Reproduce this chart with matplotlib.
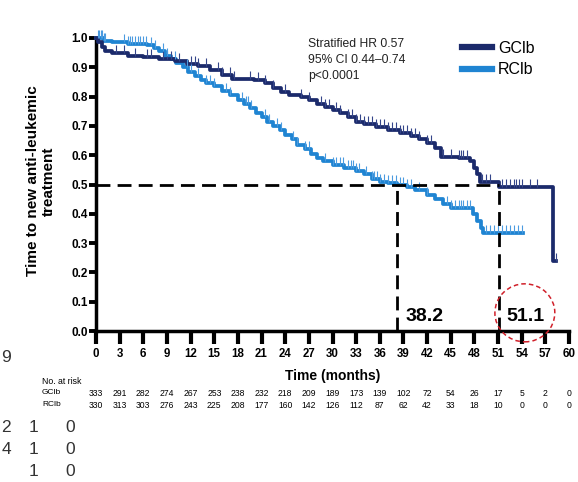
import numpy as np
import matplotlib
matplotlib.use('Agg')
import matplotlib.pyplot as plt
from matplotlib.patches import Ellipse
from matplotlib.lines import Line2D

plt.rcParams['font.family'] = ['Liberation Sans', 'DejaVu Sans']

# ---- data ----
gclb_t = [0, 0.3, 0.7, 1.2, 2, 4, 6, 8, 10, 11.5, 13, 14.5, 16, 17.3, 20, 21.5, 22.5,
          23.5, 24.5, 26, 27, 28, 29, 30, 31, 32, 33, 34, 35.5, 37, 38.5, 40, 41, 42,
          43, 43.7, 46, 47.5, 48, 48.3, 48.7, 51.1, 58, 58.3]
gclb_s = [1.0, 0.985, 0.97, 0.955, 0.95, 0.94, 0.935, 0.93, 0.92, 0.91, 0.905, 0.89,
          0.875, 0.86, 0.855, 0.845, 0.83, 0.815, 0.805, 0.8, 0.79, 0.775, 0.765, 0.755,
          0.745, 0.73, 0.715, 0.705, 0.695, 0.685, 0.675, 0.665, 0.655, 0.64, 0.625,
          0.595, 0.59, 0.58, 0.555, 0.535, 0.51, 0.49, 0.24, 0.24]

rclb_t = [0, 1, 2, 4, 6.5, 7.3, 8, 8.7, 9.5, 10.2, 11, 11.7, 12.5, 13.3, 14, 15, 16, 17,
          18, 18.8, 19.5, 20.3, 21, 21.7, 22.5, 23.3, 24, 24.8, 25.5, 26.5, 27.3, 28,
          28.8, 30, 31.5, 33, 34, 35, 36, 37, 38.2, 39.5, 40.5, 42, 43, 44, 45, 47.8,
          48.3, 48.8, 49.1, 54.2]
rclb_s = [1.0, 0.99, 0.985, 0.98, 0.975, 0.965, 0.955, 0.94, 0.93, 0.915, 0.9, 0.885,
          0.87, 0.855, 0.845, 0.835, 0.82, 0.805, 0.79, 0.775, 0.76, 0.745, 0.73, 0.715,
          0.7, 0.685, 0.67, 0.655, 0.635, 0.62, 0.605, 0.59, 0.58, 0.565, 0.555, 0.545,
          0.535, 0.52, 0.51, 0.505, 0.497, 0.49, 0.48, 0.465, 0.45, 0.435, 0.42, 0.40,
          0.375, 0.35, 0.335, 0.335]

gclb_cens = [2.5, 3.5, 5, 6.5, 7, 8.5, 9, 9.5, 10.5, 12, 12.5, 13, 14, 15.5, 16, 17, 17.5,
             19.5, 20.5, 21.5, 22.5, 24, 26, 27, 28.5, 29, 29.5, 30.5, 31, 32, 32.5, 33,
             33.5, 34, 34.5, 35, 35.5, 36, 36.5, 37, 37.5, 38, 38.5, 39, 39.5, 40, 40.5,
             41, 42, 42.5, 44, 45, 46, 46.3, 46.6, 47, 49, 49.5, 50, 51.5, 52, 52.5, 53,
             53.3, 53.6, 54, 55, 56, 58.3]
rclb_cens = [0.2, 0.4, 0.6, 0.8, 1.0, 1.2, 3.5, 4, 4.3, 4.6, 5, 5.3, 5.6, 6, 6.3, 7, 7.5,
             8.5, 9, 10, 11.5, 12, 13, 14, 14.5, 15, 16.5, 17, 18.5, 19, 19.3, 19.6, 21.5,
             22, 23, 23.5, 25, 25.5, 26.5, 27, 29, 30, 30.5, 31, 31.3, 32, 32.3, 32.6, 33,
             33.3, 34.2, 35, 35.3, 35.6, 36, 36.5, 37, 37.5, 38, 38.5, 39, 39.5, 40, 41,
             42, 44.5, 45, 45.5, 46, 46.3, 46.6, 47, 47.5, 49.5, 50, 50.5, 51, 51.5, 52,
             52.5, 53, 53.5, 54]

xticks = list(range(0, 61, 3))
yticks = [0.0, 0.1, 0.2, 0.3, 0.4, 0.5, 0.6, 0.7, 0.8, 0.9, 1.0]
risk_gclb = [333, 291, 282, 274, 267, 253, 238, 232, 218, 209, 189, 173, 139, 102, 72,
             54, 26, 17, 5, 2, 0]
risk_rclb = [330, 313, 303, 276, 243, 225, 208, 177, 160, 142, 126, 112, 87, 62, 42,
             33, 18, 10, 0, 0, 0]
median_gclb = 51.1
median_rclb = 38.2

C_G = '#1b2a6b'
C_R = '#1f84d2'

W, H = 578, 482
fig = plt.figure(figsize=(W / 100, H / 100), dpi=100)
ax = fig.add_axes([96 / W, 1 - 331 / H, (569 - 96) / W, (331 - 38) / H])

ax.step(gclb_t, gclb_s, where='post', color=C_G, lw=2.7, clip_on=False, zorder=4)
ax.step(rclb_t, rclb_s, where='post', color=C_R, lw=2.7, clip_on=False, zorder=3)


def surv_at(t, s, c):
    idx = np.searchsorted(np.array(t), np.array(c), side='right') - 1
    return np.array(s)[idx]


tick_marker = [(0, 0), (0, 1)]
ax.plot(gclb_cens, surv_at(gclb_t, gclb_s, gclb_cens), ls='none', marker=tick_marker,
        ms=11, mew=0.8, mec='#34458a', mfc='none', clip_on=False, zorder=5)
ax.plot(rclb_cens, surv_at(rclb_t, rclb_s, rclb_cens), ls='none', marker=tick_marker,
        ms=11, mew=0.8, mec='#4b9be0', mfc='none', clip_on=False, zorder=5)

# median lines
dash = (0, (5, 2.6))
ax.plot([0, median_gclb], [0.5, 0.5], color='black', lw=2.0, ls=dash, zorder=6)
ax.plot([median_rclb, median_rclb], [0, 0.5], color='black', lw=2.0, ls=dash, zorder=6)
ax.plot([median_gclb, median_gclb], [0, 0.5], color='black', lw=2.0, ls=dash, zorder=6)
ax.text(median_rclb + 1.0, 0.048, f'{median_rclb}', fontsize=14, fontweight='bold',
        va='center', ha='left')
ax.text(median_gclb + 1.0, 0.048, f'{median_gclb}', fontsize=14, fontweight='bold',
        va='center', ha='left')
ax.add_patch(Ellipse((54.4, 0.062), 7.6, 0.198, fill=False, ec='#d0202a', lw=1.1,
                     ls=(0, (3, 2)), clip_on=False, zorder=7))

ax.set_xlim(0, 60)
ax.set_ylim(0, 1.0)
ax.set_xticks(xticks)
ax.set_yticks(yticks)
ax.set_xticklabels([str(x) for x in xticks], fontsize=8.3, fontweight='bold')
ax.set_yticklabels([f'{y:.1f}' for y in yticks], fontsize=8.5, fontweight='bold')
for s in ['top', 'right']:
    ax.spines[s].set_visible(False)
for s in ['left', 'bottom']:
    ax.spines[s].set_linewidth(2.5)
ax.tick_params(axis='y', length=5, width=2.8, pad=1)
ax.tick_params(axis='x', length=9, width=3.0, pad=3)

ax.set_xlabel('Time (months)', fontsize=10, fontweight='bold', labelpad=7)
fig.text(41 / W, 1 - 181 / H, 'Time to new anti-leukemic\ntreatment', rotation=90,
         ha='center', va='center', fontsize=11, fontweight='bold', linespacing=1.1)

# annotation
fig.text(308 / W, 1 - 38 / H, 'Stratified HR 0.57\n95% CI 0.44\u20130.74\np<0.0001',
         ha='left', va='top', fontsize=8.7, linespacing=1.45, color='#222222')

# legend
handles = [Line2D([], [], color=C_G, lw=4.5), Line2D([], [], color=C_R, lw=4.5)]
fig.legend(handles, ['GClb', 'RClb'], loc='upper left',
           bbox_to_anchor=(462 / W, 1 - 41 / H), frameon=False, fontsize=11.5,
           handlelength=1.9, handletextpad=0.35, labelspacing=0.4, borderpad=0,
           borderaxespad=0)

# at-risk table
fig.text(42 / W, 1 - 381 / H, 'No. at risk', fontsize=6.3, va='center', ha='left')
fig.text(42 / W, 1 - 393 / H, 'GClb', fontsize=6.0, va='center', ha='left')
fig.text(42 / W, 1 - 405 / H, 'RClb', fontsize=6.0, va='center', ha='left')
trans = ax.get_xaxis_transform()
for x, g, r in zip(xticks, risk_gclb, risk_rclb):
    ax.text(x, -(393 - 331) / (331 - 38), str(g), transform=trans, fontsize=6.2,
            ha='center', va='center', clip_on=False)
    ax.text(x, -(405 - 331) / (331 - 38), str(r), transform=trans, fontsize=6.2,
            ha='center', va='center', clip_on=False)

# cropped neighbouring-figure text on the left edge
for txt, x, y in [('9', 6, 358), ('2', 6, 427), ('1', 33, 427), ('0', 70, 427),
                  ('4', 6, 450), ('1', 33, 450), ('0', 70, 450), ('1', 33, 472),
                  ('0', 70, 472)]:
    fig.text(x / W, 1 - y / H, txt, fontsize=12.5, color='#333333', ha='center',
             va='center')

fig.savefig('out.png', dpi=100)
